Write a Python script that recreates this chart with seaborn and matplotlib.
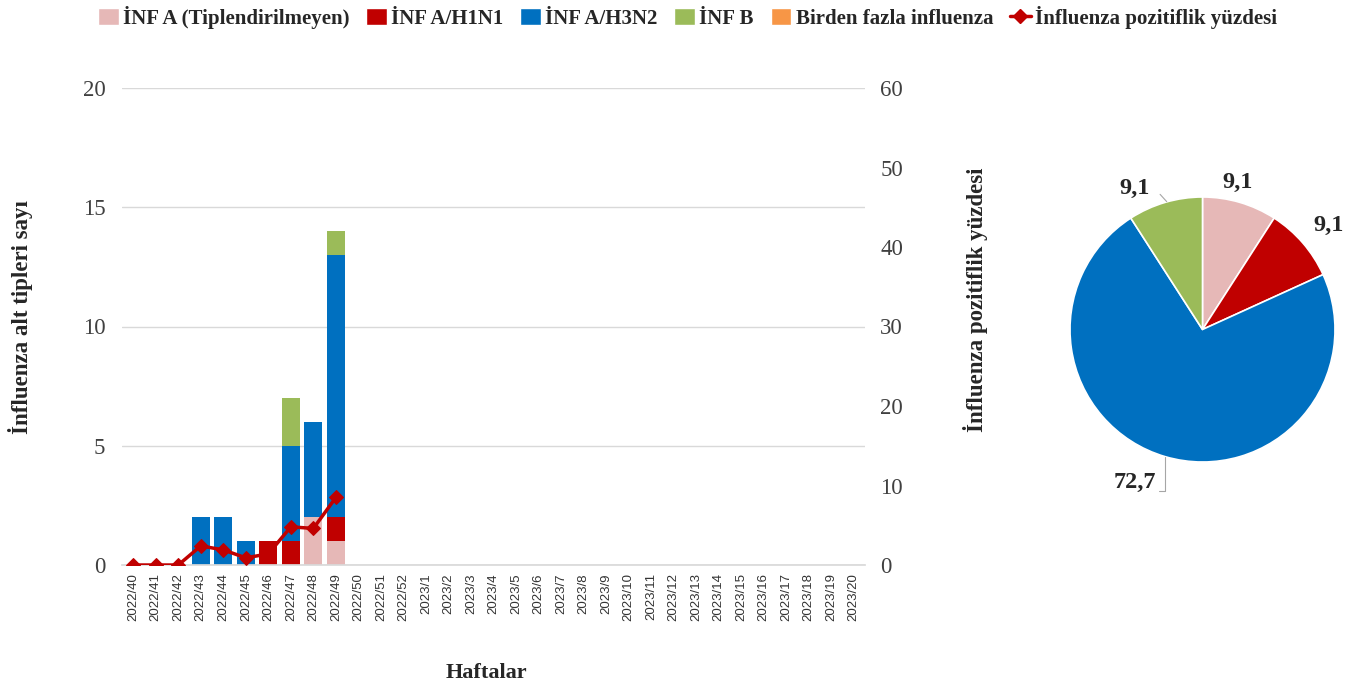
import numpy as np
import pandas as pd
import matplotlib
matplotlib.use("Agg")
import matplotlib.pyplot as plt
from matplotlib.patches import Patch
from matplotlib.lines import Line2D
import seaborn as sns

# ---------------- data ----------------
weeks = [f"2022/{w}" for w in range(40, 53)] + [f"2023/{w}" for w in range(1, 21)]
untyped = [0, 0, 0, 0, 0, 0, 0, 0, 2, 1] + [0] * 23
h1n1 = [0, 0, 0, 0, 0, 0, 1, 1, 0, 1] + [0] * 23
h3n2 = [0, 0, 0, 2, 2, 1, 0, 4, 4, 11] + [0] * 23
inf_b = [0, 0, 0, 0, 0, 0, 0, 2, 0, 1] + [0] * 23
multi = [0] * 33
positivity = [0, 0, 0, 2.4, 1.9, 0.9, 1.4, 4.8, 4.6, 8.5]

pie_labels = ["İNF A (Tiplendirilmeyen)", "İNF A/H1N1", "İNF A/H3N2", "İNF B"]
pie_values = [9.1, 9.1, 72.7, 9.1]

series_names = ["İNF A (Tiplendirilmeyen)", "İNF A/H1N1", "İNF A/H3N2", "İNF B",
                "Birden fazla influenza"]
line_name = "İnfluenza pozitiflik yüzdesi"

c_pink, c_red, c_blue, c_green, c_orange = "#E6B8B7", "#C00000", "#0070C0", "#9BBB59", "#F79646"
colors = [c_pink, c_red, c_blue, c_green, c_orange]

# ---------------- style ----------------
sns.set_theme(style="white")
plt.rcParams["font.family"] = ["Liberation Serif", "DejaVu Serif"]

fig = plt.figure(figsize=(13.64, 6.91), dpi=100)
W, H = 1364, 691
L, R, B, T = 122, 865, 565, 88
ax = fig.add_axes([L / W, 1 - B / H, (R - L) / W, (B - T) / H])

df = pd.DataFrame({"week": weeks, "u": untyped, "h1": h1n1, "h3": h3n2, "b": inf_b, "m": multi})
layers = [
    (df.u + df.h1 + df.h3 + df.b + df.m, c_orange),
    (df.u + df.h1 + df.h3 + df.b, c_green),
    (df.u + df.h1 + df.h3, c_blue),
    (df.u + df.h1, c_red),
    (df.u, c_pink),
]
for vals, col in layers:
    sns.barplot(x=df.week, y=vals, color=col, saturation=1, width=0.8,
                linewidth=0, order=weeks, ax=ax, zorder=2)

ax.set_ylim(0, 20)
ax.set_yticks([0, 5, 10, 15, 20])
ax.set_xlim(-0.5, len(weeks) - 0.5)
ax.yaxis.grid(True, color="#D9D9D9", lw=1)
ax.set_axisbelow(True)
for s in ["top", "right", "left"]:
    ax.spines[s].set_visible(False)
ax.spines["bottom"].set_color("#D9D9D9")
ax.tick_params(axis="y", length=0, pad=12, labelsize=16.5, labelcolor="#404040")
ax.tick_params(axis="x", length=0, pad=6)
ax.set_xticks(range(len(weeks)))
ax.set_xticklabels(weeks, rotation=90, fontsize=9.5, family="Liberation Sans", color="#333333")
ax.set_ylabel("İnfluenza alt tipleri sayı", fontsize=16.5, fontweight="bold")
ax.yaxis.set_label_coords(-0.12, 0.52)
ax.set_xlabel("Haftalar", fontsize=16, fontweight="bold")
ax.xaxis.set_label_coords(0.491, -0.205)

ax2 = ax.twinx()
sns.lineplot(x=np.arange(len(positivity)), y=positivity, ax=ax2, color=c_red, lw=2.5,
             marker="D", markersize=7, markeredgecolor=c_red, zorder=5)
ax2.set_ylim(0, 60)
ax2.set_yticks(range(0, 61, 10))
ax2.set_xlim(-0.5, len(weeks) - 0.5)
for s in ["top", "right", "left", "bottom"]:
    ax2.spines[s].set_visible(False)
ax2.tick_params(axis="y", length=0, pad=11, labelsize=16.5, labelcolor="#404040")
ax2.set_ylabel(line_name, fontsize=16.5, fontweight="bold", rotation=90)
ax2.yaxis.set_label_coords(1.132, 0.556)

# ---------------- pie ----------------
cx, cy, r = 1202.5, 329.5, 132.5
half = 175
pax = fig.add_axes([(cx - half) / W, 1 - (cy + half) / H, 2 * half / W, 2 * half / H])
pax.pie(pie_values, colors=colors[:4], startangle=90, counterclock=False,
        wedgeprops=dict(edgecolor="white", linewidth=1.2), radius=1)
lim = half / r
pax.set_xlim(-lim, lim)
pax.set_ylim(-lim, lim)
pax.set_aspect("equal")
pax.axis("off")
lab_pos = [(0.268, 1.113), (0.955, 0.789), (-0.509, -1.155), (-0.510, 1.068)]
for v, (lx, ly) in zip(pie_values, lab_pos):
    pax.text(lx, ly, f"{v:.1f}".replace(".", ","), ha="center", va="center",
             fontsize=17.5, fontweight="bold", clip_on=False)
# leader lines
pax.plot([-0.32, -0.27], [1.02, 0.965], color="#A6A6A6", lw=0.8, clip_on=False)
pax.plot([-0.33, -0.28, -0.28], [-1.22, -1.22, -0.96], color="#A6A6A6", lw=0.8, clip_on=False)

# ---------------- legend ----------------
handles = [Patch(facecolor=c) for c in colors]
handles.append(Line2D([0], [0], color=c_red, lw=2.5, marker="D", markersize=7))
fig.legend(handles, series_names + [line_name], loc="center", bbox_to_anchor=(0.504, 0.975),
           ncol=6, frameon=False, handlelength=1.0, handleheight=0.9, handletextpad=0.2,
           columnspacing=0.8, prop=dict(family="Liberation Serif", weight="bold", size=15))

fig.savefig("out.png", dpi=100)
